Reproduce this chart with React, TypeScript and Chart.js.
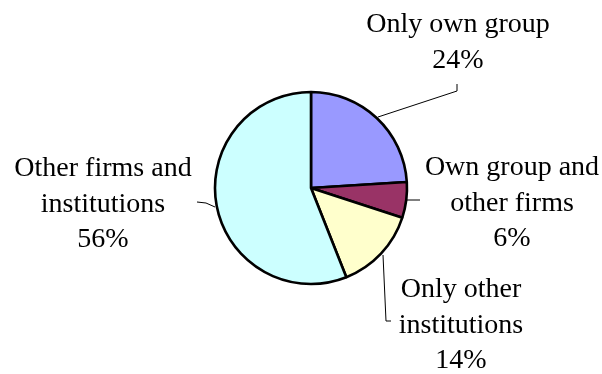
import React, { useEffect, useRef } from "react";
import { Chart, registerables } from "chart.js";

Chart.register(...registerables);

const categories = [
  "Only own group",
  "Own group and other firms",
  "Only other institutions",
  "Other firms and institutions",
];
const values = [24, 6, 14, 56];
const colors = ["#9999FF", "#993366", "#FFFFCC", "#CCFFFF"];
const labelLines = [
  ["Only own group", "24%"],
  ["Own group and", "other firms", "6%"],
  ["Only other", "institutions", "14%"],
  ["Other firms and", "institutions", "56%"],
];

// label placement (center x, first baseline y) and leader lines
const labelPos = [
  { x: 458, y: 32 },
  { x: 512, y: 175 },
  { x: 461, y: 297 },
  { x: 103, y: 176 },
];
const leaders = [
  [[378, 117], [457, 91], [457, 84]],
  [[407, 200], [420, 200]],
  [[383, 255], [386, 321], [391, 321]],
  [[215, 207], [206, 203], [197, 202]],
];

const labelPlugin = {
  id: "pieLabels",
  afterDraw(chart: any) {
    const ctx = chart.ctx;
    ctx.save();
    ctx.strokeStyle = "#000";
    ctx.lineWidth = 1;
    leaders.forEach((pts) => {
      ctx.beginPath();
      pts.forEach((p, i) => (i === 0 ? ctx.moveTo(p[0], p[1]) : ctx.lineTo(p[0], p[1])));
      ctx.stroke();
    });
    ctx.fillStyle = "#000";
    ctx.font = "28px 'Liberation Serif', 'Times New Roman', serif";
    ctx.textAlign = "center";
    ctx.textBaseline = "alphabetic";
    labelLines.forEach((lines, i) => {
      lines.forEach((t, j) => {
        ctx.fillText(t, labelPos[i].x, labelPos[i].y + j * 35.5);
      });
    });
    ctx.restore();
  },
};

export default function App() {
  const ref = useRef<HTMLCanvasElement>(null);
  useEffect(() => {
    document.body.style.margin = "0";
    const chart = new Chart(ref.current!, {
      type: "pie",
      data: {
        labels: categories,
        datasets: [
          {
            data: values,
            backgroundColor: colors,
            borderColor: "#000",
            borderWidth: 2.6,
            hoverOffset: 0,
          },
        ],
      },
      options: {
        responsive: false,
        animation: false,
        events: [],
        radius: 96,
        layout: { padding: { left: 20, right: 0, top: 2, bottom: 0 } },
        plugins: {
          legend: { display: false },
          tooltip: { enabled: false },
        },
      } as any,
      plugins: [labelPlugin],
    });
    return () => chart.destroy();
  }, []);
  return (
    <div style={{ width: 602, height: 374, background: "#fff" }}>
      <canvas ref={ref} width={602} height={374} />
    </div>
  );
}
